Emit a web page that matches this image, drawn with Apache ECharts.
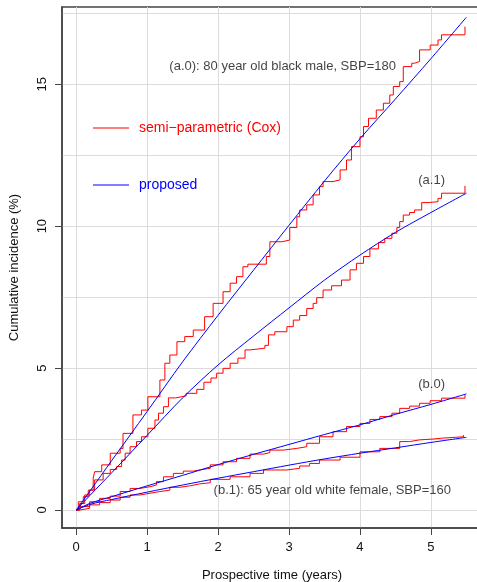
<!DOCTYPE html>
<html>
<head>
<meta charset="utf-8">
<script src="https://cdn.jsdelivr.net/npm/echarts@6/dist/echarts.min.js"></script>
<style>
  html, body { margin: 0; padding: 0; background: #fff; }
  #chart { width: 477px; height: 582px; }
</style>
</head>
<body>
<div id="chart"></div>
<script>
// axis ticks and grid lines
var xTicks = [0, 1, 2, 3, 4, 5];
var yTicks = [0, 5, 10, 15];
var yGrid = [0, 2.5, 5, 7.5, 10, 12.5, 15, 17.5];

// proposed (smooth) curves
var fitTime = [0, 0.2, 0.5, 1, 1.5, 2, 2.5, 3, 3.5, 4, 4.5, 5, 5.5];
var fitA0 = [0, 0.69, 1.74, 3.47, 5.22, 6.86, 8.45, 10.03, 11.59, 13.08, 14.48, 15.9, 17.36];
var fitA1 = [0, 0.53, 1.31, 2.63, 3.95, 5.11, 6.13, 7.12, 8.1, 8.98, 9.78, 10.48, 11.16];
var fitB0 = [0, 0.24, 0.47, 0.85, 1.22, 1.6, 1.96, 2.31, 2.66, 3.0, 3.37, 3.72, 4.09];
var fitB1 = [0, 0.2, 0.37, 0.63, 0.88, 1.12, 1.35, 1.58, 1.8, 2.0, 2.19, 2.38, 2.56];

// semi-parametric (Cox) step curves
var coxA0T = [0,0.03,0.10,0.17,0.24,0.26,0.36,0.48,0.62,0.66,0.80,0.92,1.01,1.18,1.25,1.32,1.42,1.53,1.65,1.81,1.93,2.07,2.17,2.26,2.35,2.42,2.68,2.73,2.90,3.01,3.11,3.15,3.25,3.34,3.43,3.48,3.62,3.72,3.81,3.88,4.00,4.05,4.12,4.23,4.33,4.42,4.47,4.56,4.61,4.73,4.77,4.84,4.99,5.10,5.15,5.48];
var coxA0 = [0,0.29,0.47,0.70,1.12,1.35,1.59,2.00,2.17,2.70,3.35,3.52,3.99,4.58,5.17,5.46,5.93,6.11,6.34,6.81,7.28,7.69,7.99,8.22,8.57,8.66,8.93,9.45,9.51,9.95,10.33,10.57,10.75,11.10,11.39,11.57,11.63,11.98,12.33,12.80,13.15,13.51,13.80,14.09,14.33,14.62,14.92,15.09,15.62,15.74,15.80,16.21,16.38,16.56,16.74,17.03];
var coxA1T = [0,0.05,0.12,0.19,0.26,0.38,0.48,0.57,0.64,0.69,0.76,0.85,0.92,1.01,1.11,1.16,1.23,1.30,1.40,1.55,1.70,1.80,1.90,1.98,2.07,2.17,2.28,2.38,2.45,2.66,2.71,2.80,2.97,3.06,3.15,3.25,3.34,3.39,3.48,3.60,3.74,3.86,3.95,4.05,4.14,4.26,4.35,4.45,4.52,4.56,4.61,4.70,4.77,4.87,4.96,5.10,5.15,5.48];
var coxA1 = [0,0.23,0.53,0.70,1.06,1.29,1.43,1.53,1.76,2.00,2.23,2.41,2.58,2.88,3.17,3.41,3.64,3.95,4.02,4.11,4.25,4.50,4.65,4.82,4.99,5.17,5.35,5.64,5.70,5.80,6.17,6.28,6.46,6.69,6.85,7.10,7.28,7.48,7.75,7.90,8.10,8.46,8.69,8.93,9.20,9.42,9.57,9.75,9.95,10.16,10.39,10.48,10.57,10.83,10.86,10.98,11.16,11.42];
var coxB0T = [0,0.05,0.19,0.33,0.48,0.62,0.76,0.90,1.04,1.13,1.23,1.37,1.51,1.65,1.74,1.89,2.07,2.26,2.45,2.64,2.73,2.92,3.11,3.25,3.43,3.62,3.81,4.00,4.14,4.28,4.45,4.56,4.70,4.84,4.99,5.15,5.48];
var coxB0 = [0,0.12,0.29,0.41,0.49,0.65,0.76,0.82,0.88,1.00,1.17,1.29,1.37,1.41,1.47,1.59,1.70,1.82,1.97,2.02,2.11,2.17,2.23,2.35,2.58,2.76,2.94,3.05,3.19,3.29,3.41,3.58,3.66,3.76,3.85,3.94,4.05];
var coxB1T = [0,0.05,0.19,0.33,0.48,0.62,0.76,0.90,1.04,1.18,1.32,1.46,1.60,1.74,1.89,2.17,2.45,2.64,2.97,3.15,3.29,3.43,3.72,4.00,4.28,4.56,4.70,4.84,5.03,5.15,5.46];
var coxB1 = [0,0.06,0.18,0.26,0.35,0.45,0.53,0.59,0.65,0.70,0.80,0.85,0.92,0.96,1.08,1.17,1.29,1.41,1.47,1.55,1.64,1.76,1.86,2.05,2.17,2.41,2.47,2.50,2.53,2.58,2.64];

// text notes inside the plot
var noteText = ['(a.0): 80 year old black male, SBP=180', '(a.1)', '(b.0)', '(b.1): 65 year old white female, SBP=160'];
var noteX = [2.91, 5.01, 5.01, 3.61];
var noteY = [15.64, 11.6, 4.44, 0.70];

var coxName = 'semi\u2212parametric (Cox)';
var fitName = 'proposed';
var RED = '#ff0000', BLUE = '#0000ff';
var FONT = 'Liberation Sans, Arial, Helvetica, sans-serif';

function pairs(t, v) {
    return t.map(function (x, i) { return [x, v[i]]; });
}

function coxSeries(t, v) {
    return {
        name: coxName, type: 'line', step: 'end', showSymbol: false,
        data: pairs(t, v),
        lineStyle: { color: RED, width: 1 }, itemStyle: { color: RED },
        z: 3
    };
}
function fitSeries(v) {
    return {
        name: fitName, type: 'line', smooth: 0.3, showSymbol: false,
        data: pairs(fitTime, v),
        lineStyle: { color: BLUE, width: 1 }, itemStyle: { color: BLUE },
        z: 4
    };
}

var chart = echarts.init(document.getElementById('chart'));
chart.setOption({
    animation: false,
    backgroundColor: '#fff',
    textStyle: { fontFamily: FONT },
    grid: {
        left: 62, top: 7, right: -5, bottom: 54,
        outerBoundsMode: 'none',
        show: true, borderColor: '#444', borderWidth: 1.5
    },
    legend: {
        left: 93, top: 121, orient: 'vertical', padding: 0,
        itemWidth: 36, itemHeight: 1, itemGap: 43,
        icon: 'rect',
        textStyle: { fontFamily: FONT, fontSize: 14, padding: [0, 0, 0, 5] },
        data: [
            { name: coxName, textStyle: { color: RED } },
            { name: fitName, textStyle: { color: BLUE } }
        ]
    },
    xAxis: {
        type: 'value', min: -0.2, max: 5.72,
        name: 'Prospective time (years)', nameLocation: 'middle', nameGap: 41,
        nameTextStyle: { color: '#111', fontSize: 13, fontFamily: FONT },
        axisLine: { onZero: false, lineStyle: { color: '#444', width: 1.5 } },
        axisTick: { customValues: xTicks, length: 7, lineStyle: { color: '#444', width: 1 } },
        axisLabel: { customValues: xTicks, margin: 13, color: '#111', fontSize: 13, fontFamily: FONT },
        splitLine: { show: true, lineStyle: { color: '#dcdcdc', width: 1 } }
    },
    yAxis: [{
        type: 'value', min: -0.634, max: 17.72,
        name: 'Cumulative incidence (%)', nameLocation: 'middle', nameGap: 41,
        nameTextStyle: { color: '#111', fontSize: 13, fontFamily: FONT },
        axisLine: { show: true, onZero: false, lineStyle: { color: '#444', width: 1.5 } },
        axisTick: { show: true, customValues: yTicks, length: 7, lineStyle: { color: '#444', width: 1 } },
        axisLabel: { customValues: yTicks, rotate: 90, margin: 13, color: '#111', fontSize: 13, fontFamily: FONT },
        splitLine: { show: false }
    }, {
        type: 'value', min: -0.634, max: 17.72,
        axisLine: { show: false },
        axisTick: { show: false, customValues: yGrid },
        axisLabel: { show: false },
        splitLine: { show: true, lineStyle: { color: '#dcdcdc', width: 1 } }
    }],
    series: [
        coxSeries(coxA0T, coxA0),
        coxSeries(coxA1T, coxA1),
        coxSeries(coxB0T, coxB0),
        coxSeries(coxB1T, coxB1),
        fitSeries(fitA0),
        fitSeries(fitA1),
        fitSeries(fitB0),
        fitSeries(fitB1),
        {
            name: 'notes', type: 'scatter', symbolSize: 0, silent: true,
            data: noteText.map(function (s, i) { return { name: s, value: [noteX[i], noteY[i]] }; }),
            label: { show: true, position: 'inside', formatter: '{b}', color: '#111', fontSize: 13, fontFamily: FONT },
            z: 5
        }
    ]
});
</script>
</body>
</html>
